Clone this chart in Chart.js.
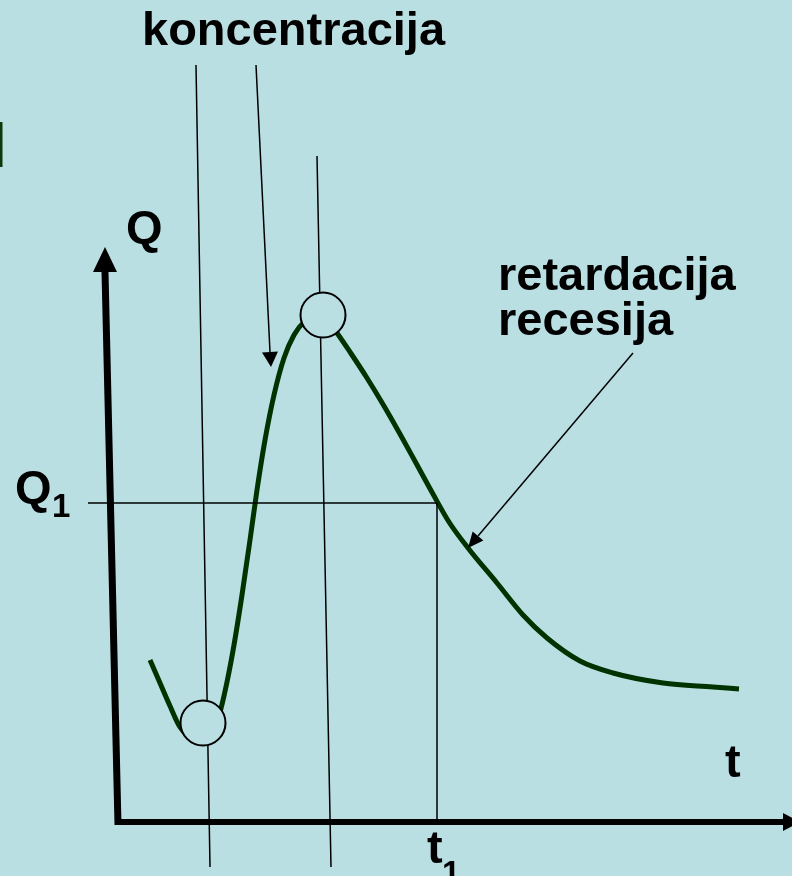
<!DOCTYPE html>
<html>
<head>
<meta charset="utf-8">
<script src="https://cdn.jsdelivr.net/npm/chart.js@4.4.1/dist/chart.umd.min.js"></script>
<style>
  html, body { margin: 0; padding: 0; background: #badfe3; }
  #wrap { width: 792px; height: 876px; }
</style>
</head>
<body>
<div id="wrap"><canvas id="hydrograph" width="792" height="876"></canvas></div>
<script>
// discharge curve Q(t)
var curveT = [3.0, 4.0, 5.0, 6.0, 7.2, 8.3, 9.3, 10.0, 10.7, 11.4, 12.2, 13.0, 13.7, 14.5, 15.4, 16.4,
              17.4, 18.4, 19.6, 20.7, 21.7, 23.0, 24.7, 26.4, 28.0, 29.6, 31.3, 32.9, 34.8, 37.7,
              40.3, 42.7, 46.0, 49.3, 54.3, 59.3, 61.9];
var curveQ = [16.2, 13.9, 11.6, 9.5, 8.5, 8.4, 9.4, 11.0, 14.0, 17.7, 22.7, 28.2, 33.2, 38.2, 42.7, 46.4,
              48.7, 50.0, 50.6, 50.2, 48.9, 47.0, 44.4, 41.6, 38.8, 35.9, 32.8, 30.0, 27.4, 23.9,
              20.7, 18.4, 16.1, 14.9, 13.9, 13.5, 13.3];

// minimum and peak markers
var extremaT = [8.3, 20.3];
var extremaQ = [9.9, 50.7];

// Q1 level and the time t1 where the recession crosses it
var q1 = 31.9;
var t1 = 31.7;

// guide lines [t, Q]
var guideMin = [[7.6, 75.7], [9.0, -4.5]];
var guidePeak = [[19.7, 66.6], [21.1, -4.5]];
var pointerRise = [[13.6, 75.7], [15.0, 47.0]];
var pointerRiseTip = [15.1, 45.5];
var pointerFall = [[51.3, 46.9], [35.8, 28.6]];
var pointerFallTip = [34.8, 27.4];

// axes
var axisQ = [[-0.2, -0.3], [-1.5, 55.0]];
var axisQTip = [-1.5, 57.5];
var axisT = [[-0.5, 0], [66.3, 0]];
var axisTTip = [68.0, 0];

var BG = '#badfe3';
var FONT = 'bold 47px "Liberation Sans", Arial, sans-serif';
var SUB = 'bold 33px "Liberation Sans", Arial, sans-serif';

function pts(arr) {
  return arr.map(function (p) { return { x: p[0], y: p[1] }; });
}

function thinLine(data, extra) {
  var ds = {
    data: pts(data),
    showLine: true,
    borderColor: '#000',
    borderWidth: 1.5,
    pointRadius: 0,
    tension: 0,
    order: 1
  };
  for (var k in extra) ds[k] = extra[k];
  return ds;
}

var arrowHeads = {
  id: 'arrowHeads',
  afterDatasetsDraw: function (chart) {
    var ctx = chart.ctx, xs = chart.scales.x, ys = chart.scales.y;
    chart.data.datasets.forEach(function (ds) {
      if (!ds.arrowTip) return;
      var base = ds.data[ds.data.length - 1];
      var bx = xs.getPixelForValue(base.x), by = ys.getPixelForValue(base.y);
      var tx = xs.getPixelForValue(ds.arrowTip[0]), ty = ys.getPixelForValue(ds.arrowTip[1]);
      var dx = tx - bx, dy = ty - by, len = Math.sqrt(dx * dx + dy * dy);
      var nx = -dy / len * ds.arrowHalf, ny = dx / len * ds.arrowHalf;
      ctx.save();
      ctx.fillStyle = ds.borderColor;
      ctx.beginPath();
      ctx.moveTo(tx, ty);
      ctx.lineTo(bx + nx, by + ny);
      ctx.lineTo(bx - nx, by - ny);
      ctx.closePath();
      ctx.fill();
      ctx.restore();
    });
  }
};

var textLabels = {
  id: 'textLabels',
  afterDraw: function (chart, args, opts) {
    var ctx = chart.ctx, xs = chart.scales.x, ys = chart.scales.y;
    ctx.save();
    ctx.textAlign = 'left';
    ctx.textBaseline = 'alphabetic';
    opts.items.forEach(function (it) {
      ctx.font = it.font;
      ctx.fillStyle = it.color || '#000';
      ctx.fillText(it.text, xs.getPixelForValue(it.t), ys.getPixelForValue(it.q));
    });
    // clipped green mark at the left edge
    ctx.fillStyle = '#0b3b0b';
    var x0 = xs.getPixelForValue(-12), x1 = xs.getPixelForValue(-11.75);
    var y0 = ys.getPixelForValue(70.0), y1 = ys.getPixelForValue(65.5);
    ctx.fillRect(x0, y0, x1 - x0, y1 - y0);
    ctx.restore();
  }
};

var datasets = [
  {
    data: extremaT.map(function (t, i) { return { x: t, y: extremaQ[i] }; }),
    showLine: false,
    pointRadius: 22.5,
    pointBackgroundColor: BG,
    pointBorderColor: '#000',
    pointBorderWidth: 2,
    order: 0
  },
  thinLine(guideMin),
  thinLine(guidePeak),
  thinLine([[-3.2, q1], [t1, q1]]),
  thinLine([[t1, q1], [t1, -0.3]]),
  thinLine(pointerRise, { arrowTip: pointerRiseTip, arrowHalf: 8 }),
  thinLine(pointerFall, { arrowTip: pointerFallTip, arrowHalf: 7 }),
  {
    data: curveT.map(function (t, i) { return { x: t, y: curveQ[i] }; }),
    showLine: true,
    borderColor: '#003300',
    borderWidth: 5,
    borderCapStyle: 'butt',
    pointRadius: 0,
    cubicInterpolationMode: 'monotone',
    order: 2
  },
  thinLine(axisQ, { borderWidth: 7, order: 3, arrowTip: axisQTip, arrowHalf: 12 }),
  thinLine(axisT, { borderWidth: 6, order: 3, arrowTip: axisTTip, arrowHalf: 9 })
];

new Chart(document.getElementById('hydrograph'), {
  type: 'scatter',
  data: { datasets: datasets },
  options: {
    responsive: false,
    animation: false,
    events: [],
    layout: { padding: 0, autoPadding: false },
    scales: {
      x: { type: 'linear', min: -12, max: 67.2, display: false },
      y: { type: 'linear', min: -5.4, max: 82.2, display: false }
    },
    plugins: {
      legend: { display: false },
      tooltip: { enabled: false },
      textLabels: {
        items: [
          { text: 'koncentracija', t: 2.2, q: 77.7, font: FONT },
          { text: 'retardacija', t: 37.8, q: 53.2, font: FONT },
          { text: 'recesija', t: 37.8, q: 48.7, font: FONT },
          { text: 'Q', t: 0.6, q: 57.9, font: FONT },
          { text: 'Q', t: -10.5, q: 31.9, font: FONT },
          { text: '1', t: -6.8, q: 30.5, font: SUB },
          { text: 't', t: 60.5, q: 4.5, font: FONT },
          { text: 't', t: 30.7, q: -4.1, font: FONT },
          { text: '1', t: 32.2, q: -6.2, font: SUB }
        ]
      }
    }
  },
  plugins: [arrowHeads, textLabels]
});
</script>
</body>
</html>
